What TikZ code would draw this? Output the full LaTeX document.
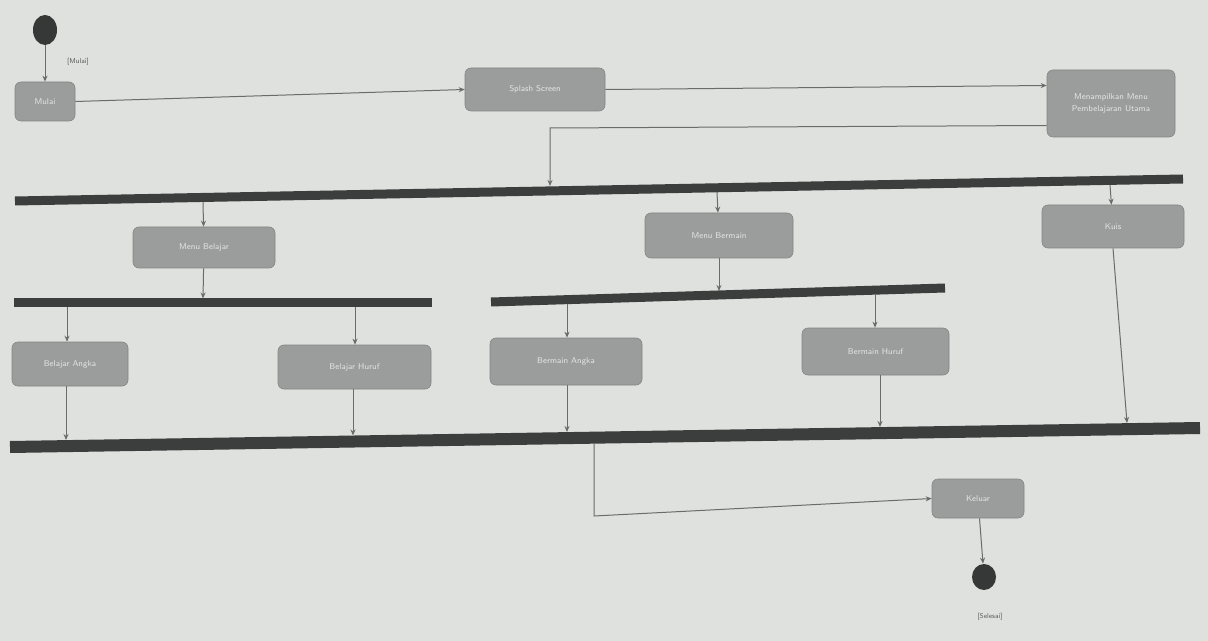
\documentclass[tikz,border=0pt]{standalone}
\usetikzlibrary{arrows.meta,shapes.geometric}
\definecolor{bg}{HTML}{DFE1DE}
\definecolor{boxgray}{HTML}{9B9D9C}
\definecolor{bartone}{HTML}{3C3D3D}
\definecolor{linegray}{HTML}{6A6B6B}
\definecolor{txt}{HTML}{E4E6E6}
\begin{document}
\begin{tikzpicture}[x=0.5pt,y=-0.5pt,
  actbox/.style={draw=boxgray!85!black,line width=0.3pt,fill=boxgray,rounded corners=3pt,text=txt,
    font=\fontsize{4.2}{5}\selectfont\sffamily,inner sep=0pt,align=center},
  flow/.style={draw=linegray,line width=0.5pt,-{Stealth[length=3pt,width=2.5pt]}},
  plain/.style={draw=linegray,line width=0.5pt},
  bar/.style={draw=bartone,line width=4.5pt},
  dot/.style={ellipse,fill=bartone!90!black,inner sep=0pt},
  lbl/.style={font=\fontsize{3.5}{4}\selectfont\sffamily,text=gray!70!black}]
\fill[bg] (0,0) rectangle (1208,641);
\useasboundingbox (0,0) rectangle (1208,641);
% start / end
\node[dot,minimum width=12pt,minimum height=15pt] (start) at (45,30) {};
\node[lbl] (startl) at (78,62) {[Mulai]};
\node[dot,minimum width=12pt,minimum height=13pt] (end) at (984,577) {};
\node[lbl] (endl) at (990,617) {[Selesai]};
% activities
\node[actbox,minimum width=30pt,minimum height=19.5pt] (mulai) at (45,101.5) {Mulai};
\node[actbox,minimum width=70pt,minimum height=21.5pt] (splash) at (535,89.5) {Splash Screen};
\node[actbox,minimum width=64pt,minimum height=33.5pt] (menu) at (1111,103.5) {Menampilkan Menu\\[1pt]Pembelajaran Utama};
\node[actbox,minimum width=71pt,minimum height=20.5pt] (mbel) at (204,247.5) {Menu Belajar};
\node[actbox,minimum width=74pt,minimum height=22.5pt] (mber) at (719,235.5) {Menu Bermain};
\node[actbox,minimum width=71pt,minimum height=21.5pt] (kuis) at (1113,226.5) {Kuis};
\node[actbox,minimum width=58pt,minimum height=22pt] (bangka) at (70,364) {Belajar Angka};
\node[actbox,minimum width=76.5pt,minimum height=22pt] (bhuruf) at (354.5,367) {Belajar Huruf};
\node[actbox,minimum width=76pt,minimum height=23.5pt] (mangka) at (566,361.5) {Bermain Angka};
\node[actbox,minimum width=73.5pt,minimum height=23.5pt] (mhuruf) at (875.5,351.5) {Bermain Huruf};
\node[actbox,minimum width=46pt,minimum height=19.5pt] (keluar) at (978,498.5) {Keluar};
% bars
\coordinate (b1a) at (15,201); \coordinate (b1b) at (1183,179);
\coordinate (b2a) at (14,303); \coordinate (b2b) at (432,303);
\coordinate (b3a) at (491,302); \coordinate (b3b) at (945,288);
\coordinate (b4a) at (10,447); \coordinate (b4b) at (1200,428);
\draw[bar] (b1a) -- (b1b);
\draw[bar] (b2a) -- (b2b);
\draw[bar] (b3a) -- (b3b);
\draw[bar,line width=6pt] (b4a) -- (b4b);
% bar attachment points
\coordinate (j1in) at (550,186);
\coordinate (j1o1) at (203,202); \coordinate (j1o2) at (717,192); \coordinate (j1o3) at (1110,185);
\coordinate (j2in) at (203,298.5);
\coordinate (j2o1) at (67,307.5); \coordinate (j2o2) at (355,307.5);
\coordinate (j3in) at (719,291);
\coordinate (j3o1) at (567,303.7); \coordinate (j3o2) at (875,294);
\coordinate (j4i1) at (66,440); \coordinate (j4i2) at (353,435.5); \coordinate (j4i3) at (567,432);
\coordinate (j4i4) at (880,427); \coordinate (j4i5) at (1127,423);
\coordinate (j4out) at (594,443.7);
\coordinate (turn1) at (550,128);
\coordinate (turn2) at (594,516);
% connectors
\draw[flow] (start) -- (mulai);
\draw[flow] (mulai.east) -- (splash.west);
\draw[flow] (splash.east) -- ([yshift=9pt]menu.west);
\draw[flow] ([yshift=-11pt]menu.west) -- (turn1) -- (j1in);
\draw[flow] (j1o1) -- (mbel);
\draw[flow] (j1o2) -- (mber);
\draw[flow] (j1o3) -- (kuis);
\draw[flow] (mbel) -- (j2in);
\draw[flow] (mber) -- (j3in);
\draw[flow] (j2o1) -- (j2o1 |- bangka.north);
\draw[flow] (j2o2) -- (j2o2 |- bhuruf.north);
\draw[flow] (j3o1) -- (j3o1 |- mangka.north);
\draw[flow] (j3o2) -- (j3o2 |- mhuruf.north);
\draw[flow] (j4i1 |- bangka.south) -- (j4i1);
\draw[flow] (j4i2 |- bhuruf.south) -- (j4i2);
\draw[flow] (j4i3 |- mangka.south) -- (j4i3);
\draw[flow] (j4i4 |- mhuruf.south) -- (j4i4);
\draw[flow] (kuis.south) -- (j4i5);
\draw[flow] (j4out) -- (turn2) -- (keluar.west);
\draw[flow] (keluar) -- (end);
\end{tikzpicture}
\end{document}
